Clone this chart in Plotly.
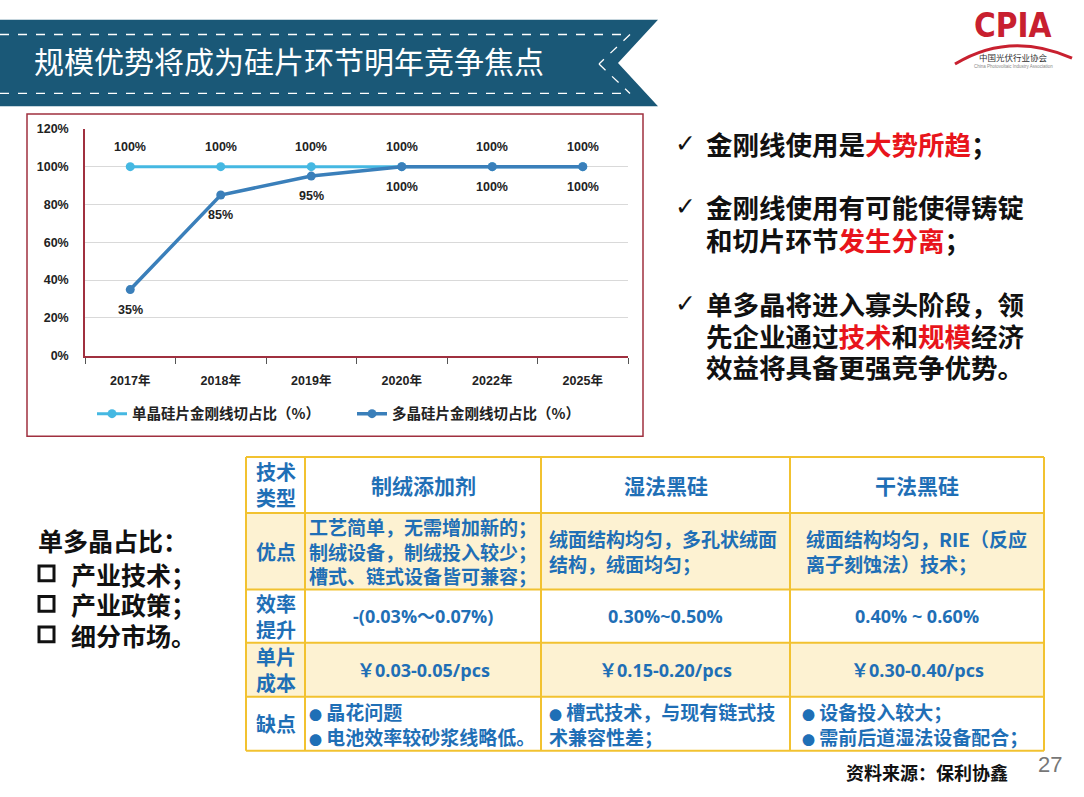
import plotly.graph_objects as go

W, H = 1084, 797

# ---------------- data ----------------
years = ["2017年", "2018年", "2019年", "2020年", "2022年", "2025年"]
mono_share = [100, 100, 100, 100, 100, 100]
poly_share = [35, 85, 95, 100, 100, 100]
mono_name = "单晶硅片金刚线切占比（%）"
poly_name = "多晶硅片金刚线切占比（%）"
y_tick_vals = [0, 20, 40, 60, 80, 100, 120]
y_tick_text = ["0%", "20%", "40%", "60%", "80%", "100%", "120%"]

title_text = "规模优势将成为硅片环节明年竞争焦点"

RED = "#E8141B"
def red(s):
    return "<span style='color:%s'>%s</span>" % (RED, s)

def dot():
    return "<span style='font-size:13px'>●</span>"

bullet_lines = [
    ["金刚线使用是" + red("大势所趋") + "；"],
    ["金刚线使用有可能使得铸锭", "和切片环节" + red("发生分离") + "；"],
    ["单多晶将进入寡头阶段，领", "先企业通过" + red("技术") + "和" + red("规模") + "经济", "效益将具备更强竞争优势。"],
]

left_title = "单多晶占比："
left_items = ["产业技术；", "产业政策；", "细分市场。"]

row_headers = ["技术<br>类型", "优点", "效率<br>提升", "单片<br>成本", "缺点"]
col_headers = ["制绒添加剂", "湿法黑硅", "干法黑硅"]
advantages = ["工艺简单，无需增加新的；<br>制绒设备，制绒投入较少；<br>槽式、链式设备皆可兼容；",
              "绒面结构均匀，多孔状绒面<br>结构，绒面均匀；",
              "绒面结构均匀，RIE（反应<br>离子刻蚀法）技术；"]
efficiency = ["-(0.03%～0.07%)", "0.30%~0.50%", "0.40% ~ 0.60%"]
unit_cost = ["￥0.03-0.05/pcs", "￥0.15-0.20/pcs", "￥0.30-0.40/pcs"]
drawbacks = [dot() + " 晶花问题<br>" + dot() + " 电池效率较砂浆线略低。",
             dot() + " 槽式技术，与现有链式技<br>术兼容性差；",
             dot() + " 设备投入较大；<br>" + dot() + " 需前后道湿法设备配合；"]

source_text = "资料来源：保利协鑫"
page_no = "27"

# ---------------- helpers ----------------
def px(x):
    return x / W

def py(y):
    return 1 - y / H

CJK = "Noto Sans CJK SC"
LAT = "Liberation Sans, Noto Sans CJK SC"
MAROON = "#A0303F"
MONO_C = "#45B8E2"
POLY_C = "#3A7FBA"
TEAL = "#1A5877"
GOLD = "#F2C230"
PALE = "#FDF2D2"
BLUE = "#1F6FB6"

fig = go.Figure()

fig.add_trace(go.Scatter(
    x=years, y=mono_share, name=mono_name, mode="lines+markers",
    line=dict(color=MONO_C, width=3), marker=dict(size=9, color=MONO_C),
    hoverinfo="skip"))
fig.add_trace(go.Scatter(
    x=years, y=poly_share, name=poly_name, mode="lines+markers",
    line=dict(color=POLY_C, width=3.5), marker=dict(size=9, color=POLY_C),
    hoverinfo="skip"))

annotations = []
for yr, v in zip(years, mono_share):
    annotations.append(dict(x=yr, y=v, xref="x", yref="y", text="%d%%" % v,
                            showarrow=False, yshift=20,
                            font=dict(family=LAT, size=12.5, color="#222", weight="bold")))
for yr, v in zip(years, poly_share):
    annotations.append(dict(x=yr, y=v, xref="x", yref="y", text="%d%%" % v,
                            showarrow=False, yshift=-20,
                            font=dict(family=LAT, size=12.5, color="#222", weight="bold")))

shapes = []

# ---------------- banner ----------------
banner_path = "M %f,%f L %f,%f L %f,%f L %f,%f L %f,%f Z" % (
    px(0), py(13), px(658), py(13), px(618), py(57), px(658), py(101), px(0), py(101))
shapes.append(dict(type="path", xref="paper", yref="paper", path=banner_path,
                   fillcolor=TEAL, line=dict(width=0), layer="below"))
dash = dict(color="white", width=1.3, dash="dash")
shapes.append(dict(type="line", xref="paper", yref="paper", x0=px(0), y0=py(28), x1=px(630), y1=py(28), line=dash))
shapes.append(dict(type="line", xref="paper", yref="paper", x0=px(0), y0=py(88), x1=px(630), y1=py(88), line=dash))
shapes.append(dict(type="line", xref="paper", yref="paper", x0=px(630), y0=py(28), x1=px(599), y1=py(58), line=dash))
shapes.append(dict(type="line", xref="paper", yref="paper", x0=px(599), y0=py(58), x1=px(630), y1=py(88), line=dash))
annotations.append(dict(x=px(32), y=py(54), xref="paper", yref="paper", text=title_text,
                        showarrow=False, xanchor="left", yanchor="middle",
                        font=dict(family=CJK, size=30, color="white")))

# ---------------- logo ----------------
annotations.append(dict(x=px(1013), y=py(19), xref="paper", yref="paper", text="<b>CPIA</b>",
                        showarrow=False, xanchor="center", yanchor="middle",
                        font=dict(family="Liberation Sans Narrow, DejaVu Sans Condensed, Liberation Sans",
                                  size=33, color="#C8202F")))
arc = "M %f,%f Q %f,%f %f,%f" % (px(955), py(58), px(1010), py(24), px(1072), py(52))
shapes.append(dict(type="path", xref="paper", yref="paper", path=arc,
                   line=dict(color="#C8202F", width=3)))
annotations.append(dict(x=px(1013), y=py(51), xref="paper", yref="paper", text="中国光伏行业协会",
                        showarrow=False, xanchor="center", yanchor="middle",
                        font=dict(family=CJK, size=8.5, color="#333")))
annotations.append(dict(x=px(1013), y=py(61), xref="paper", yref="paper",
                        text="China Photovoltaic Industry Association",
                        showarrow=False, xanchor="center", yanchor="middle",
                        font=dict(family=LAT, size=4.5, color="#888")))

# ---------------- chart border ----------------
shapes.append(dict(type="rect", xref="paper", yref="paper", x0=px(27), y0=py(109), x1=px(643), y1=py(437),
                   line=dict(color=MAROON, width=1.5), fillcolor="rgba(0,0,0,0)", layer="below"))

# ---------------- right bullets ----------------
para_y = [[139], [203, 237], [302, 334, 366]]
for lines, ys in zip(bullet_lines, para_y):
    annotations.append(dict(x=px(673), y=py(ys[0]), xref="paper", yref="paper", text="✓",
                            showarrow=False, xanchor="left", yanchor="middle",
                            font=dict(family="DejaVu Sans", size=25, color="#111")))
    for t, yy in zip(lines, ys):
        annotations.append(dict(x=px(704), y=py(yy), xref="paper", yref="paper", text=t,
                                showarrow=False, xanchor="left", yanchor="middle",
                                font=dict(family=CJK, size=26.5, color="#111", weight="bold")))

# ---------------- left list ----------------
annotations.append(dict(x=px(36), y=py(543), xref="paper", yref="paper", text=left_title,
                        showarrow=False, xanchor="left", yanchor="middle",
                        font=dict(family=CJK, size=25, color="#111", weight="bold")))
for i, item in enumerate(left_items):
    yy = 577 + i * 31
    shapes.append(dict(type="rect", xref="paper", yref="paper", x0=px(39), y0=py(yy - 8), x1=px(54), y1=py(yy + 7),
                       line=dict(color="#111", width=3), fillcolor="rgba(0,0,0,0)"))
    annotations.append(dict(x=px(69), y=py(yy), xref="paper", yref="paper", text=item,
                            showarrow=False, xanchor="left", yanchor="middle",
                            font=dict(family=CJK, size=25, color="#111", weight="bold")))

# ---------------- table ----------------
col_edges = [246, 305, 541, 790, 1044]
row_edges = [458, 515, 593, 647, 702, 757]
row_fill = ["white", PALE, "white", PALE, "white"]
for r in range(5):
    shapes.append(dict(type="rect", xref="paper", yref="paper",
                       x0=px(col_edges[0]), y0=py(row_edges[r]), x1=px(col_edges[-1]), y1=py(row_edges[r + 1]),
                       fillcolor=row_fill[r], line=dict(width=0), layer="below"))
for yy in row_edges:
    shapes.append(dict(type="line", xref="paper", yref="paper", x0=px(col_edges[0]), y0=py(yy),
                       x1=px(col_edges[-1]), y1=py(yy), line=dict(color=GOLD, width=2)))
for xx in col_edges:
    shapes.append(dict(type="line", xref="paper", yref="paper", x0=px(xx), y0=py(row_edges[0]),
                       x1=px(xx), y1=py(row_edges[-1]), line=dict(color=GOLD, width=2)))

def cell_center(c, r):
    return (col_edges[c] + col_edges[c + 1]) / 2, (row_edges[r] + row_edges[r + 1]) / 2

for r, t in enumerate(row_headers):
    cx, cy = cell_center(0, r)
    annotations.append(dict(x=px(cx), y=py(cy), xref="paper", yref="paper", text=t,
                            showarrow=False, xanchor="center", yanchor="middle", align="center",
                            font=dict(family=CJK, size=20, color=BLUE, weight="bold")))
for c, t in enumerate(col_headers):
    cx, cy = cell_center(c + 1, 0)
    annotations.append(dict(x=px(cx), y=py(cy), xref="paper", yref="paper", text=t,
                            showarrow=False, xanchor="center", yanchor="middle",
                            font=dict(family=CJK, size=21, color=BLUE, weight="bold")))
left_pad = [2, 6, 14]
for c, t in enumerate(advantages):
    cx, cy = cell_center(c + 1, 1)
    annotations.append(dict(x=px(col_edges[c + 1] + left_pad[c]), y=py(cy), xref="paper", yref="paper", text=t,
                            showarrow=False, xanchor="left", yanchor="middle", align="left",
                            font=dict(family=CJK, size=19, color=BLUE, weight="bold")))
for c, t in enumerate(efficiency):
    cx, cy = cell_center(c + 1, 2)
    annotations.append(dict(x=px(cx), y=py(cy), xref="paper", yref="paper", text=t,
                            showarrow=False, xanchor="center", yanchor="middle",
                            font=dict(family="Open Sans, Noto Sans CJK SC", size=18, color=BLUE, weight="bold")))
for c, t in enumerate(unit_cost):
    cx, cy = cell_center(c + 1, 3)
    annotations.append(dict(x=px(cx), y=py(cy), xref="paper", yref="paper", text=t,
                            showarrow=False, xanchor="center", yanchor="middle",
                            font=dict(family="Open Sans, Noto Sans CJK SC", size=18, color=BLUE, weight="bold")))
draw_pad = [2, 6, 10]
for c, t in enumerate(drawbacks):
    cx, cy = cell_center(c + 1, 4)
    annotations.append(dict(x=px(col_edges[c + 1] + draw_pad[c]), y=py(cy), xref="paper", yref="paper", text=t,
                            showarrow=False, xanchor="left", yanchor="middle", align="left",
                            font=dict(family=CJK, size=19, color=BLUE, weight="bold")))

# ---------------- footer ----------------
annotations.append(dict(x=px(1010), y=py(779), xref="paper", yref="paper", text=source_text,
                        showarrow=False, xanchor="right", yanchor="middle",
                        font=dict(family=CJK, size=18, color="#111", weight="bold")))
annotations.append(dict(x=px(1050), y=py(771), xref="paper", yref="paper", text=page_no,
                        showarrow=False, xanchor="center", yanchor="middle",
                        font=dict(family=LAT, size=22, color="#777")))

fig.update_layout(
    width=W, height=H, margin=dict(l=0, r=0, t=0, b=0),
    paper_bgcolor="white", plot_bgcolor="white",
    showlegend=True,
    legend=dict(orientation="h", x=px(92), y=py(414), xanchor="left", yanchor="middle",
                entrywidth=215, entrywidthmode="pixels", bgcolor="rgba(0,0,0,0)",
                font=dict(family=CJK, size=14.5, color="#222", weight="bold")),
    xaxis=dict(domain=[px(85), px(628)], type="category", range=[-0.5, 5.5],
               showline=True, linecolor=MAROON, linewidth=1.5, showgrid=False,
               ticks="outside", tickson="boundaries", ticklen=6, tickcolor="#555",
               ticklabelstandoff=12,
               tickfont=dict(family=LAT, size=12.5, color="#222", weight="bold"), fixedrange=True),
    yaxis=dict(domain=[py(355), py(124)], range=[0, 120], tickmode="array",
               tickvals=y_tick_vals, ticktext=y_tick_text,
               showline=True, linecolor=MAROON, linewidth=1.5, showgrid=True, gridcolor="#D9D9D9",
               zeroline=False, ticks="", ticklabelstandoff=12,
               tickfont=dict(family=LAT, size=12.5, color="#222", weight="bold"), fixedrange=True),
    shapes=shapes, annotations=annotations,
)

fig.write_html("out.html", config={"displayModeBar": False},
               post_script="document.body.style.margin='0';document.body.style.overflow='hidden';")
